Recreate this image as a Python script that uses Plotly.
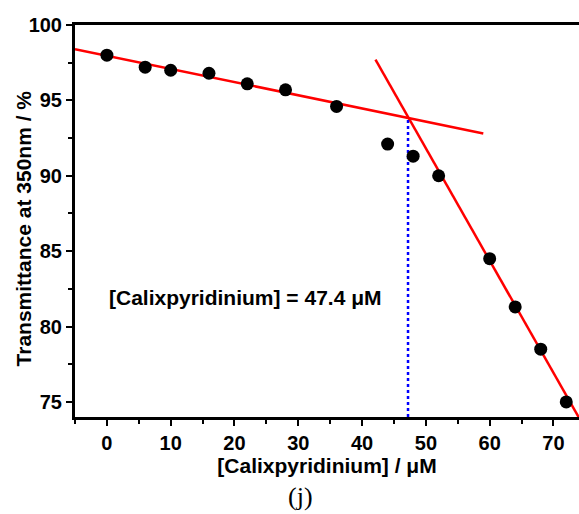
import plotly.graph_objects as go

conc = [0, 6, 10, 16, 22, 28, 36, 44, 48, 52, 60, 64, 68, 72]
trans = [98.0, 97.2, 97.0, 96.8, 96.1, 95.7, 94.6, 92.1, 91.3, 90.0, 84.5, 81.3, 78.5, 75.0]

fit1_x = [-5, 59]
fit1_y = [98.4, 92.8]
fit2_x = [42.1, 74.2]
fit2_y = [97.7, 73.8]
cross_x = [47.2, 47.2]
cross_y = [74, 93.85]

fig = go.Figure()
fig.add_trace(go.Scatter(x=fit1_x, y=fit1_y, mode="lines",
                         line=dict(color="#ff0000", width=2.5), showlegend=False))
fig.add_trace(go.Scatter(x=fit2_x, y=fit2_y, mode="lines",
                         line=dict(color="#ff0000", width=2.5), showlegend=False))
fig.add_trace(go.Scatter(x=cross_x, y=cross_y, mode="lines",
                         line=dict(color="#0000ff", width=2.5, dash="dot"), showlegend=False))
fig.add_trace(go.Scatter(x=conc, y=trans, mode="markers",
                         marker=dict(color="black", size=13), showlegend=False))

font = "Liberation Sans, Arial, sans-serif"
fig.update_layout(
    width=579, height=514,
    margin=dict(l=75, r=0, t=25, b=97),
    plot_bgcolor="white", paper_bgcolor="white",
    font=dict(family=font, color="black"),
    xaxis=dict(range=[-5, 74], tickvals=[0, 10, 20, 30, 40, 50, 60, 70],
               ticks="outside", ticklen=6, tickwidth=2, tickcolor="black",
               minor=dict(tickvals=[-5, 5, 15, 25, 35, 45, 55, 65], ticks="outside", ticklen=4, tickwidth=2, tickcolor="black"),
               showline=True, linecolor="black", linewidth=3, mirror=True,
               showgrid=False, zeroline=False,
               tickfont=dict(size=20, family=font, weight="bold"),
               title=dict(text="<b>[Calixpyridinium] / μM</b>", font=dict(size=21), standoff=0)),
    yaxis=dict(range=[74, 100], tickvals=[75, 80, 85, 90, 95, 100],
               ticks="outside", ticklen=6, tickwidth=2, tickcolor="black",
               minor=dict(tickvals=[77.5, 82.5, 87.5, 92.5, 97.5], ticks="outside", ticklen=4, tickwidth=2, tickcolor="black"),
               showline=True, linecolor="black", linewidth=3,
               showgrid=False, zeroline=False,
               tickfont=dict(size=20, family=font, weight="bold")),
    annotations=[
        dict(text="<b>Transmittance at 350nm / %</b>", x=-0.102, y=0.48, xref="paper", yref="paper",
             textangle=-90, showarrow=False, font=dict(size=21), xanchor="center", yanchor="middle"),
        dict(text="[Calixpyridinium] = 47.4 μM", x=0.0, y=81.9, xref="x", yref="y",
             showarrow=False, font=dict(size=21, weight="bold"), xanchor="left", yanchor="middle"),
        dict(text="(j)", x=0.448, y=-0.16, xref="paper", yref="paper", showarrow=False,
             font=dict(size=26, family="Liberation Serif, Times New Roman, serif"),
             xanchor="center", yanchor="top"),
    ],
)
fig.write_html("out.html")
